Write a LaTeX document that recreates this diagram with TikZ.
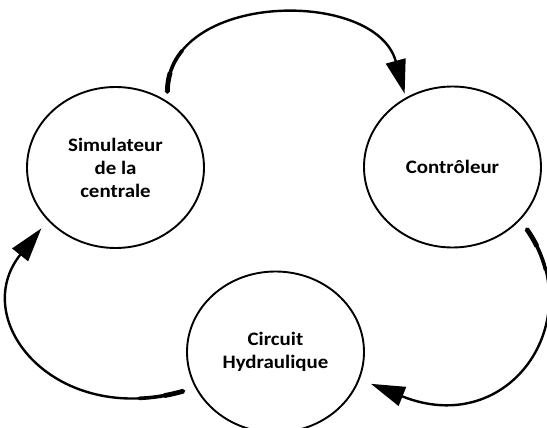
\documentclass[tikz,border=0pt]{standalone}
\usepackage{fontspec}
\setmainfont{Carlito}[FakeStretch=1.1]
\usetikzlibrary{shapes.geometric, arrows.meta, positioning}
\tikzstyle{station}=[ellipse, draw, line width=1.9pt, minimum width=177pt, minimum height=161pt, inner sep=0pt, align=center, font=\fontsize{19}{23}\selectfont\bfseries]
\tikzstyle{flow}=[line width=2.4pt, -{Triangle[length=34pt,width=20pt]},
	postaction={draw, -, line cap=round, line width=3.6pt, dash pattern=on 45pt off 2000pt},
	postaction={draw, -, line width=4.8pt, dash pattern=on 20pt off 2000pt}]

\begin{document}
\begin{tikzpicture}[x=1pt, y=-1pt]
	\useasboundingbox (0,0) rectangle (547,428);

	% Draw the three blocks of the loop
	\node[station] (sim) at (115.5,167.5) {Simulateur\\de la\\centrale};
	\node[station] (ctrl) at (452.5,167) {Contrôleur};
	\node[station] (hyd) at (275.5,352) {Circuit\\Hydraulique};

	% Close the loop: simulateur -> controleur -> circuit -> simulateur
	\draw[flow, shorten <=9pt, shorten >=4pt] (sim.52) .. controls +(0,-110) and +(-30,-110) .. (ctrl.124);
	\draw[flow, shorten <=11pt, shorten >=12pt] (ctrl.-38.5) .. controls +(70,100) and +(150,60) .. (hyd.-18);
	\draw[flow, shorten <=12pt, shorten >=10pt] (hyd.204.4) .. controls +(-140,40) and +(-80,100) .. (sim.218.1);
\end{tikzpicture}
\end{document}
